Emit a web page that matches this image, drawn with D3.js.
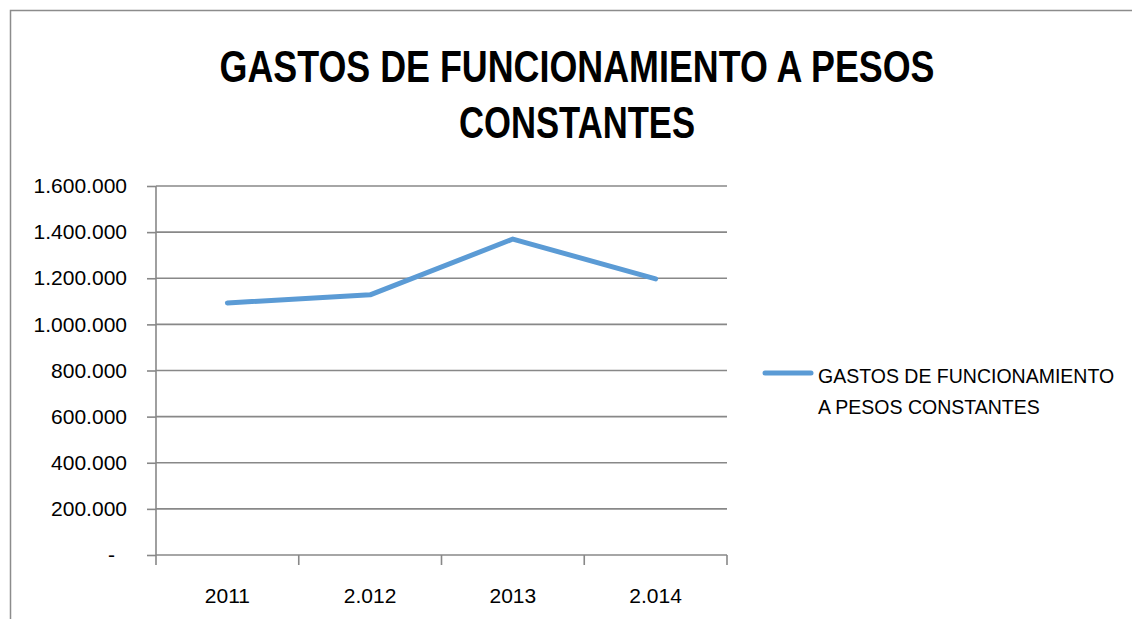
<!DOCTYPE html>
<html>
<head>
<meta charset="utf-8">
<script src="https://cdn.jsdelivr.net/npm/d3@7"></script>
<style>
  body { margin: 0; background: #fff; }
  svg { display: block; font-family: "Liberation Sans", Arial, sans-serif; }
</style>
</head>
<body>
<svg id="chart" width="1132" height="619"></svg>
<script>
// chart data
let years = ['2011', '2.012', '2013', '2.014'];
let gastos = [1093000, 1128000, 1370000, 1197000];
let yTicks = [0, 200000, 400000, 600000, 800000, 1000000, 1200000, 1400000, 1600000];
let titleLines = ['GASTOS DE FUNCIONAMIENTO A PESOS', 'CONSTANTES'];
let legendLines = ['GASTOS DE FUNCIONAMIENTO', 'A PESOS CONSTANTES'];

let svg = d3.select('#chart');
let margin = {top: 186, right: 405, bottom: 64, left: 156};
let width = 1132 - margin.left - margin.right;
let height = 619 - margin.top - margin.bottom;

// frame of the chart area
svg.append('path')
  .attr('d', 'M10.5,619 V10.5 H1132')
  .style('fill', 'none')
  .style('stroke', '#8c8c8c')
  .style('stroke-width', 1.5);

// title
let titleWidths = [715, 236];
svg.selectAll('.title')
  .data(titleLines)
  .enter()
  .append('text')
  .attr('class', 'title')
  .attr('x', 577)
  .attr('y', (d, i) => 82 + i * 56)
  .attr('text-anchor', 'middle')
  .attr('textLength', (d, i) => titleWidths[i])
  .attr('lengthAdjust', 'spacingAndGlyphs')
  .style('font-size', '44px')
  .style('font-weight', 'bold')
  .style('fill', '#000')
  .text(d => d);

let g = svg.append('g')
  .attr('transform', 'translate(' + margin.left + ',' + margin.top + ')');

let x = d3.scaleBand().domain(years).range([0, width]);
let y = d3.scaleLinear().domain([0, 1600000]).range([height, 0]);

let fmt = (v) => v === 0 ? '-' : d3.format(',')(v).replace(/,/g, '.');

// gridlines
g.append('g')
  .selectAll('line')
  .data(yTicks.filter(v => v > 0))
  .enter()
  .append('line')
  .attr('x1', 0)
  .attr('x2', width)
  .attr('y1', d => y(d))
  .attr('y2', d => y(d))
  .style('stroke', '#888888')
  .style('stroke-width', 1.6);

// y axis
let yAxis = g.append('g')
  .call(d3.axisLeft(y).tickValues(yTicks).tickFormat(fmt).tickSize(9).tickPadding(20));
yAxis.select('.domain').style('stroke', '#888888').style('stroke-width', 1.6)
  .attr('d', 'M0,0 V' + height);
yAxis.selectAll('.tick line').style('stroke', '#888888').style('stroke-width', 1.6);
yAxis.selectAll('.tick text')
  .style('font-size', '21px')
  .style('fill', '#000')
  .attr('dx', d => d === 0 ? -12 : 0);

// x axis, ticks on category boundaries
let xAxis = g.append('g')
  .attr('transform', 'translate(0,' + height + ')')
  .call(d3.axisBottom(x).tickSize(0).tickPadding(33));
xAxis.select('.domain').remove();
xAxis.selectAll('.tick text').style('font-size', '21px').style('fill', '#000');
xAxis.append('line')
  .attr('x1', 0).attr('x2', width)
  .style('stroke', '#888888').style('stroke-width', 1.6);
xAxis.selectAll('.bound')
  .data(d3.range(years.length + 1))
  .enter()
  .append('line')
  .attr('x1', i => i * x.step())
  .attr('x2', i => i * x.step())
  .attr('y1', 0)
  .attr('y2', 10)
  .style('stroke', '#888888')
  .style('stroke-width', 1.6);

// series line
let line = d3.line()
  .x((d, i) => x(years[i]) + x.bandwidth() / 2)
  .y(d => y(d));

g.append('path')
  .datum(gastos)
  .attr('d', line)
  .style('fill', 'none')
  .style('stroke', '#5b9bd5')
  .style('stroke-width', 5)
  .style('stroke-linecap', 'round')
  .style('stroke-linejoin', 'round');

// legend
let legend = svg.append('g').attr('transform', 'translate(763,373)');
legend.append('line')
  .attr('x1', 2).attr('x2', 48)
  .style('stroke', '#5b9bd5')
  .style('stroke-width', 5)
  .style('stroke-linecap', 'round');
legend.selectAll('text')
  .data(legendLines)
  .enter()
  .append('text')
  .attr('x', 55)
  .attr('y', (d, i) => 10 + i * 31)
  .style('font-size', '19.5px')
  .style('fill', '#000')
  .text(d => d);
</script>
</body>
</html>
